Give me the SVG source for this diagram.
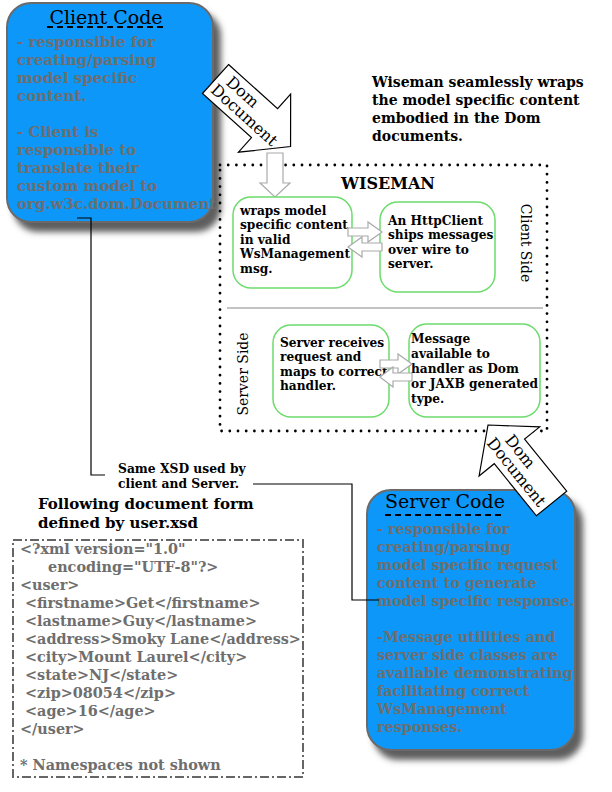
<svg xmlns="http://www.w3.org/2000/svg" width="612" height="792" viewBox="0 0 612 792">
<defs>
<filter id="shadow" x="-10%" y="-10%" width="130%" height="130%">
<feDropShadow dx="7" dy="9" stdDeviation="3" flood-color="#555" flood-opacity="0.95"/>
</filter>
<style>
.box{fill:#0f97f8;stroke:#6b6b6b;stroke-width:2}
.title{font-family:"DejaVu Serif","Liberation Serif",serif;font-size:19px;fill:#000}
.body{font-family:"DejaVu Serif","Liberation Serif",serif;font-size:15px;font-weight:bold;fill:#6e6e6e}
.body2{font-family:"DejaVu Serif","Liberation Serif",serif;font-size:14.4px;font-weight:bold;fill:#6e6e6e}
.node{fill:#fff;stroke:#6cdc6c;stroke-width:1.5}
.nt{font-family:"DejaVu Serif","Liberation Serif",serif;font-size:12.2px;font-weight:bold;fill:#000}
.side{font-family:"DejaVu Serif","Liberation Serif",serif;font-size:14px;fill:#000}
.big{font-family:"DejaVu Serif","Liberation Serif",serif;font-weight:bold;fill:#000}
.harrow{fill:#fff;stroke:#aaa;stroke-width:1.2}
.barrow{fill:#fff;stroke:#000;stroke-width:1.2}
.dom{font-family:"DejaVu Serif","Liberation Serif",serif;font-size:16px;fill:#000}
.conn{fill:none;stroke:#000;stroke-width:1.2}
.xml{font-family:"DejaVu Serif","Liberation Serif",serif;font-size:14.4px;font-weight:bold;fill:#6e6e6e}
</style>
</defs>
<rect width="612" height="792" fill="#fff"/>

<g id="client-code">
<rect class="box" x="7" y="3" width="206" height="219" rx="24" filter="url(#shadow)"/>
<text class="title" x="106" y="24" text-anchor="middle">Client Code</text>
<line x1="47" y1="27" x2="164" y2="27" stroke="#000" stroke-width="2" stroke-dasharray="6 4"/>
<text class="body" x="17">
<tspan x="17" y="47">- responsible for</tspan>
<tspan x="17" y="65">creating/parsing</tspan>
<tspan x="17" y="83">model specific</tspan>
<tspan x="17" y="101">content.</tspan>
<tspan x="17" y="137">- Client is</tspan>
<tspan x="17" y="155">responsible to</tspan>
<tspan x="17" y="173">translate their</tspan>
<tspan x="17" y="191">custom model to</tspan>
<tspan x="17" y="209">org.w3c.dom.Document</tspan>
</text>
</g>

<g id="dom-arrow-top" transform="translate(215.5,79) rotate(42)">
<path class="barrow" d="M0,-19.5 L66,-19.5 L66,-39 L101,0 L66,39 L66,19.5 L0,19.5 Z"/>
<text class="dom" x="10" y="-3">Dom</text>
<text class="dom" x="4" y="13">Document</text>
</g>

<g id="wiseman-note">
<text class="big" font-size="14">
<tspan x="372" y="87">Wiseman seamlessly wraps</tspan>
<tspan x="372" y="105">the model specific content</tspan>
<tspan x="372" y="123">embodied in the Dom</tspan>
<tspan x="372" y="141">documents.</tspan>
</text>
</g>

<g id="wiseman">
<rect x="220" y="165" width="327" height="266" fill="none" stroke="#000" stroke-width="2.8" stroke-linecap="round" stroke-dasharray="0 8.2"/>
<text class="big" font-size="16" x="388" y="189" text-anchor="middle">WISEMAN</text>
<line x1="227" y1="308" x2="543" y2="308" stroke="#888" stroke-width="1"/>
<text class="side" transform="translate(521,243) rotate(90)" text-anchor="middle">Client Side</text>
<text class="side" transform="translate(248,374) rotate(-90)" text-anchor="middle">Server Side</text>
</g>

<g id="input-arrow">
<path class="harrow" d="M267,153 L283,153 L283,183 L290,183 L275,197 L260,183 L267,183 Z"/>
</g>

<g id="node-wrap">
<rect class="node" x="233" y="197" width="119" height="91" rx="18"/>
<text class="nt">
<tspan x="240" y="215">wraps model</tspan>
<tspan x="240" y="229">specific content</tspan>
<tspan x="240" y="244">in valid</tspan>
<tspan x="240" y="258">WsManagement</tspan>
<tspan x="240" y="273">msg.</tspan>
</text>
</g>

<g id="node-httpclient">
<rect class="node" x="380" y="202" width="115" height="90" rx="18"/>
<text class="nt">
<tspan x="388" y="225">An HttpClient</tspan>
<tspan x="388" y="239">ships messages</tspan>
<tspan x="388" y="254">over wire to</tspan>
<tspan x="388" y="268">server.</tspan>
</text>
</g>

<g id="node-server-receives">
<rect class="node" x="273" y="325" width="116" height="92" rx="18"/>
<text class="nt">
<tspan x="280" y="347">Server receives</tspan>
<tspan x="280" y="361">request and</tspan>
<tspan x="280" y="376">maps to correct</tspan>
<tspan x="280" y="390">handler.</tspan>
</text>
</g>

<g id="node-message">
<rect class="node" x="409" y="324" width="131" height="93" rx="18"/>
<text class="nt">
<tspan x="411" y="343">Message</tspan>
<tspan x="411" y="358">available to</tspan>
<tspan x="411" y="373">handler as Dom</tspan>
<tspan x="411" y="388">or JAXB generated</tspan>
<tspan x="411" y="403">type.</tspan>
</text>
</g>

<g id="pair-arrows">
<path class="harrow" d="M348,228 L368,228 L368,222 L382,232 L368,242 L368,236 L348,236 Z"/>
<path class="harrow" d="M382,243 L362,243 L362,237 L348,247 L362,257 L362,251 L382,251 Z"/>
<path class="harrow" d="M380,360 L398,360 L398,354 L412,364 L398,374 L398,368 L380,368 Z"/>
<path class="harrow" d="M412,373 L393,373 L393,367 L380,377 L393,387 L393,381 L412,381 Z"/>
</g>

<g id="server-code">
<rect class="box" x="367" y="490" width="208" height="260" rx="24" filter="url(#shadow)"/>
<text class="title" x="445" y="508" text-anchor="middle">Server Code</text>
<line x1="385" y1="515" x2="504" y2="515" stroke="#000" stroke-width="2" stroke-dasharray="6 4"/>
<text class="body2">
<tspan x="377" y="534">- responsible for</tspan>
<tspan x="377" y="552">creating/parsing</tspan>
<tspan x="377" y="570">model specific request</tspan>
<tspan x="377" y="588">content to generate</tspan>
<tspan x="377" y="606">model specific response.</tspan>
<tspan x="377" y="642">-Message utilities and</tspan>
<tspan x="377" y="660">server side classes are</tspan>
<tspan x="377" y="678">available demonstrating</tspan>
<tspan x="377" y="696">facilitating correct</tspan>
<tspan x="377" y="714">WsManagement</tspan>
<tspan x="377" y="732">responses.</tspan>
</text>
</g>

<g id="dom-arrow-bottom" transform="translate(488,425) rotate(51)">
<path class="barrow" d="M0,0 L34,-39 L34,-19.5 L101,-19.5 L101,19.5 L34,19.5 L34,39 Z"/>
<text class="dom" x="22" y="-3">Dom</text>
<text class="dom" x="13" y="13">Document</text>
</g>

<g id="connectors">
<polyline class="conn" points="77,218 91,218 91,475 105,475"/>
<polyline class="conn" points="253,484 352,484 352,600 379,600"/>
</g>

<g id="xsd-label">
<text class="big" font-size="12.3">
<tspan x="118" y="473">Same XSD used by</tspan>
<tspan x="118" y="488">client and Server.</tspan>
</text>
</g>

<g id="xml-sample">
<text class="big" font-size="15">
<tspan x="38" y="509">Following document form</tspan>
<tspan x="38" y="528">defined by user.xsd</tspan>
</text>
<rect x="13" y="540" width="290" height="237" fill="none" stroke="#666" stroke-width="2" stroke-dasharray="9 3 2 3"/>
<text class="xml">
<tspan x="20" y="554">&lt;?xml version="1.0"</tspan>
<tspan x="48" y="572">encoding="UTF-8"?&gt;</tspan>
<tspan x="20" y="590">&lt;user&gt;</tspan>
<tspan x="25" y="608">&lt;firstname&gt;Get&lt;/firstname&gt;</tspan>
<tspan x="25" y="626">&lt;lastname&gt;Guy&lt;/lastname&gt;</tspan>
<tspan x="25" y="644">&lt;address&gt;Smoky Lane&lt;/address&gt;</tspan>
<tspan x="25" y="662">&lt;city&gt;Mount Laurel&lt;/city&gt;</tspan>
<tspan x="25" y="680">&lt;state&gt;NJ&lt;/state&gt;</tspan>
<tspan x="25" y="698">&lt;zip&gt;08054&lt;/zip&gt;</tspan>
<tspan x="25" y="716">&lt;age&gt;16&lt;/age&gt;</tspan>
<tspan x="20" y="734">&lt;/user&gt;</tspan>
<tspan x="20" y="770">* Namespaces not shown</tspan>
</text>
</g>
</svg>
